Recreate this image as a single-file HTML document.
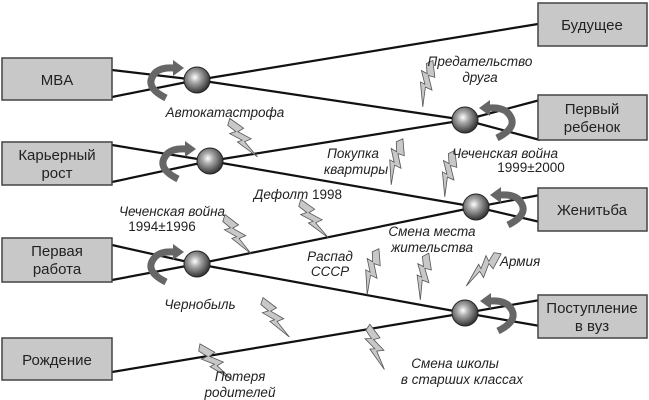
<!DOCTYPE html>
<html><head><meta charset="utf-8"><style>
html,body{margin:0;padding:0;background:#fff;}
svg{display:block;}
text{font-family:"Liberation Sans","DejaVu Sans",sans-serif;font-size:13.5px;fill:#222;}
.i{font-style:italic;}
.b{font-size:15px;}
</style></head><body>
<svg width="649" height="400" viewBox="0 0 649 400" xmlns="http://www.w3.org/2000/svg">
<defs>
<radialGradient id="g" cx="0.42" cy="0.4" r="0.6">
<stop offset="0" stop-color="#fff"/><stop offset="0.35" stop-color="#aaa"/><stop offset="1" stop-color="#333"/>
</radialGradient>
<polygon id="bolt" points="0,-9 17,-8 14,-2 29,-3 25,3 44,9 19,7 22,3 8,4 12,-1 2,-2" fill="#c8c8c8" stroke="#555" stroke-width="0.8"/>
<g id="rotL">
<path d="M -2,18 Q -26,6 -12,-8 Q -6,-13 6,-12" fill="none" stroke="#666" stroke-width="7"/>
<polygon points="5,-20 16,-12 5,-4" fill="#666"/>
</g>
</defs>
<g stroke="#111" stroke-width="2.2" fill="none">
<polyline points="112,97 197,80 538,24"/>
<polyline points="112,70 197,80 465,120 540,140"/>
<polyline points="112,145 210,161 476,207 540,222"/>
<polyline points="112,182 210,161 465,120 540,100"/>
<polyline points="112,245 197,264 465,313 540,326"/>
<polyline points="112,280 197,264 476,207 540,195"/>
<polyline points="112,372 465,313 540,300"/>
</g>
<g fill="#c8c8c8" stroke="#444" stroke-width="1.5">
<rect x="2" y="58" width="110" height="42"/>
<rect x="2" y="142" width="110" height="43"/>
<rect x="2" y="238" width="110" height="44"/>
<rect x="2" y="338" width="110" height="42"/>
<rect x="538" y="3" width="109" height="43"/>
<rect x="538" y="95" width="109" height="45"/>
<rect x="538" y="188" width="109" height="43"/>
<rect x="538" y="295" width="109" height="43"/>
</g>
<g text-anchor="middle" class="b">
<text x="57" y="85" class="b">MBA</text>
<text x="57" y="160" class="b">Карьерный</text><text x="57" y="178" class="b">рост</text>
<text x="57" y="256" class="b">Первая</text><text x="57" y="274" class="b">работа</text>
<text x="57" y="365" class="b">Рождение</text>
<text x="592" y="30" class="b">Будущее</text>
<text x="592" y="114" class="b">Первый</text><text x="592" y="132" class="b">ребенок</text>
<text x="592" y="215" class="b">Женитьба</text>
<text x="592" y="313" class="b">Поступление</text><text x="592" y="331" class="b">в вуз</text>
</g>
<use href="#rotL" transform="translate(168,80)"/>
<use href="#rotL" transform="translate(180,161)"/>
<use href="#rotL" transform="translate(168,264)"/>
<use href="#rotL" transform="translate(495,120) scale(-1,1)"/>
<use href="#rotL" transform="translate(506,207) scale(-1,1)"/>
<use href="#rotL" transform="translate(496,313) scale(-1,1)"/>
<g fill="url(#g)" stroke="#222" stroke-width="1">
<circle cx="197" cy="80" r="13"/>
<circle cx="210" cy="161" r="13"/>
<circle cx="197" cy="264" r="13"/>
<circle cx="465" cy="120" r="13"/>
<circle cx="476" cy="207" r="13"/>
<circle cx="465" cy="313" r="13"/>
</g>
<use href="#bolt" transform="translate(225,126) rotate(32)"/>
<use href="#bolt" transform="translate(424,62) rotate(80)"/>
<use href="#bolt" transform="translate(394,140) rotate(82)"/>
<use href="#bolt" transform="translate(446,152) rotate(80)"/>
<use href="#bolt" transform="translate(296,207) rotate(32)"/>
<use href="#bolt" transform="translate(220,222) rotate(34)"/>
<use href="#bolt" transform="translate(370,250) rotate(82)"/>
<use href="#bolt" transform="translate(420,255) rotate(78)"/>
<use href="#bolt" transform="translate(493,250) rotate(115)"/>
<use href="#bolt" transform="translate(258,305) rotate(34)"/>
<use href="#bolt" transform="translate(363,330) rotate(50)"/>
<use href="#bolt" transform="translate(196,352) rotate(26)"/>
<g text-anchor="middle">
<text class="i" x="225" y="117">Автокатастрофа</text>
<text class="i" x="480" y="66">Предательство</text><text class="i" x="480" y="82">друга</text>
<text class="i" x="353" y="158">Покупка</text><text class="i" x="356" y="174">квартиры</text>
<text class="i" x="505" y="158">Чеченская война</text><text x="531" y="172">1999±2000</text>
<text x="298" y="199"><tspan class="i">Дефолт</tspan> 1998</text>
<text class="i" x="172" y="216">Чеченская война</text><text x="162" y="231">1994±1996</text>
<text class="i" x="432" y="236">Смена места</text><text class="i" x="432" y="252">жительства</text>
<text class="i" x="330" y="261">Распад</text><text class="i" x="330" y="276">СССР</text>
<text class="i" x="520" y="266">Армия</text>
<text class="i" x="200" y="309">Чернобыль</text>
<text class="i" x="240" y="381">Потеря</text><text class="i" x="240" y="397">родителей</text>
<text class="i" x="455" y="368">Смена школы</text><text class="i" x="462" y="384">в старших классах</text>
</g>
</svg>
</body></html>
